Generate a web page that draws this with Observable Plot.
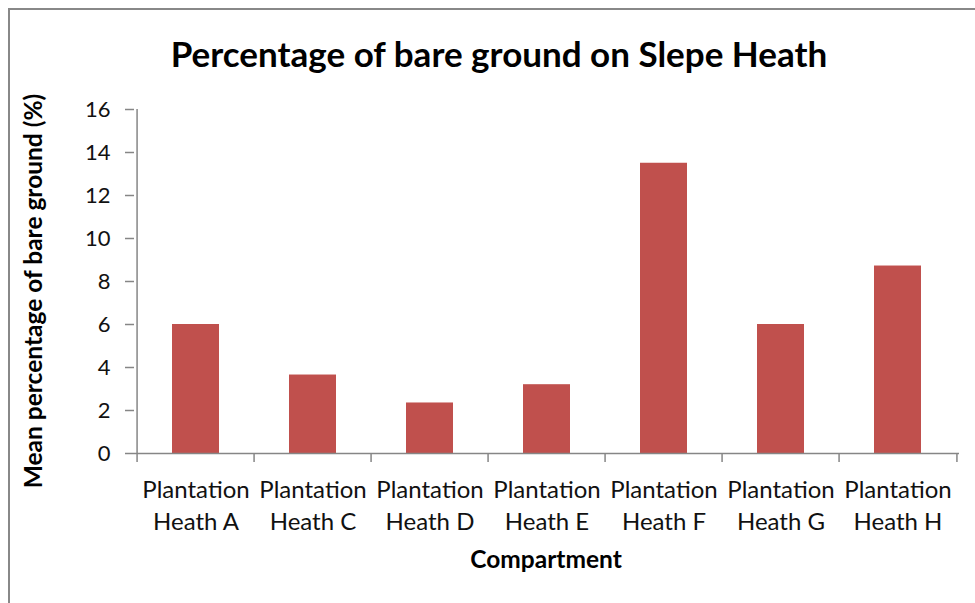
<!DOCTYPE html>
<html>
<head>
<meta charset="utf-8">
<script src="https://cdn.jsdelivr.net/npm/d3@7"></script>
<script src="https://cdn.jsdelivr.net/npm/@observablehq/plot@0.6"></script>
<style>
  html, body { margin: 0; padding: 0; background: #fff; }
  body { width: 975px; height: 603px; position: relative; overflow: hidden; font-family: Lato, "Open Sans", sans-serif; }
  #frame { position: absolute; left: 8px; top: 8px; width: 2000px; height: 2000px; border-left: 2px solid #888; border-top: 2px solid #888; box-sizing: border-box; }
  #title { position: absolute; left: 0; width: 998px; top: 32px; text-align: center; font-weight: bold; font-size: 35px; line-height: 1.2; color: #000; white-space: nowrap; }
  #ylabel { position: absolute; left: 33px; top: 291px; transform: translate(-50%, -50%) rotate(-90deg); font-weight: bold; font-size: 24.5px; line-height: 1.2; white-space: nowrap; color: #000; }
  #xlabel { position: absolute; left: 0; width: 1092px; top: 544px; text-align: center; font-weight: bold; font-size: 24.5px; line-height: 1.2; color: #000; }
  #chart { position: absolute; left: 0; top: 0; }
</style>
</head>
<body>
<div id="frame"></div>
<div id="chart"></div>
<div id="title">Percentage of bare ground on Slepe Heath</div>
<div id="ylabel">Mean percentage of bare ground (%)</div>
<div id="xlabel">Compartment</div>
<script>
const compartments = ["Plantation Heath A", "Plantation Heath C", "Plantation Heath D", "Plantation Heath E", "Plantation Heath F", "Plantation Heath G", "Plantation Heath H"];
const bareGround = [6.0, 3.65, 2.35, 3.2, 13.5, 6.0, 8.72];
const yTicks = [0, 2, 4, 6, 8, 10, 12, 14, 16];

const data = compartments.map((c, i) => ({compartment: c, value: bareGround[i]}));

const W = 975, H = 603, mL = 134, mR = 16, mT = 109, mB = 150;
const step = (W - mL - mR) / compartments.length;
const axisColor = "#868686";
const barColor = "#C0504D";

const chart = Plot.plot({
  width: W,
  height: H,
  marginLeft: mL,
  marginRight: mR,
  marginTop: mT,
  marginBottom: mB,
  style: {fontFamily: "Lato, 'Open Sans', sans-serif", fontSize: "22px", color: "#000", background: "transparent"},
  x: {domain: compartments, paddingInner: 0.6, paddingOuter: 0.3, axis: null},
  y: {domain: [0, 16], axis: null},
  marks: [
    Plot.barY(data, {x: "compartment", y: "value", fill: barColor}),
    Plot.ruleY([0], {stroke: axisColor, strokeWidth: 1.5}),
    Plot.ruleX([compartments[0]], {y1: 0, y2: 16, dx: -step / 2, stroke: axisColor, strokeWidth: 1.5}),
    Plot.axisY({ticks: yTicks, tickSize: 9, tickPadding: 15, stroke: axisColor, strokeWidth: 1.5, fill: "#111", fontSize: 22, label: null}),
    Plot.axisX({tickSize: 9, text: null, dx: -step / 2, stroke: axisColor, strokeWidth: 1.5, label: null}),
    Plot.axisX({ticks: [compartments[compartments.length - 1]], tickSize: 9, text: null, dx: step / 2, stroke: axisColor, strokeWidth: 1.5, label: null}),
    Plot.axisX({tickSize: 0, tickPadding: 22, fontSize: 24, fill: "#111", lineHeight: 1.33,
      tickFormat: d => d.replace(" Heath", "\nHeath"), label: null})
  ]
});
document.getElementById("chart").appendChild(chart);
</script>
</body>
</html>
